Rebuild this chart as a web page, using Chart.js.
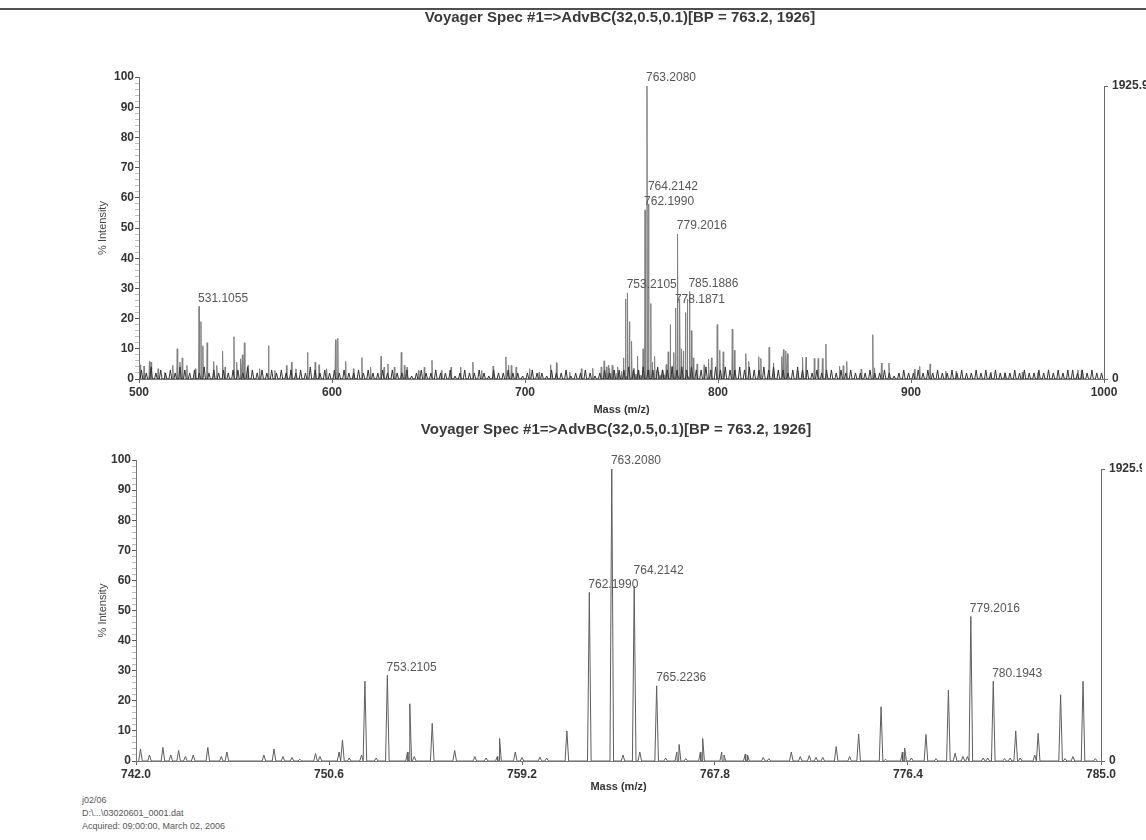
<!DOCTYPE html>
<html><head><meta charset="utf-8">
<script src="https://cdn.jsdelivr.net/npm/chart.js@4.4.1/dist/chart.umd.min.js"></script>
<style>
html,body{margin:0;padding:0;background:#fff;overflow:hidden;}
#page{position:relative;width:1146px;height:840px;overflow:hidden;background:#fff;}
canvas{position:absolute;left:0;}
#scanEdge{position:absolute;left:0;top:8px;width:1146px;height:2px;background:#505050;}
.foot{position:absolute;left:82px;font:9px "Liberation Sans",Arial,sans-serif;line-height:10px;color:#555;white-space:nowrap;}
</style></head><body>
<div id="page">
<div id="scanEdge"></div>
<canvas id="fullChart" width="1190" height="417" style="top:0px"></canvas>
<canvas id="zoomChart" width="1190" height="376" style="top:418px"></canvas>
<div class="foot" style="top:795px">j02/06</div>
<div class="foot" style="top:808px">D:\...\03020601_0001.dat</div>
<div class="foot" style="top:821px">Acquired: 09:00:00, March 02, 2006</div>
</div>
<script>
// ---------------- DATA ----------------
const titleText = 'Voyager Spec #1=>AdvBC(32,0.5,0.1)[BP = 763.2, 1926]';
const xAxisTitle = 'Mass (m/z)';
const yAxisTitle = '% Intensity';
const basePeakCounts = 1925.9;
const basePeakPercent = 97;

const fullTicks = [500, 600, 700, 800, 900, 1000];
const zoomTicks = [742.0, 750.6, 759.2, 767.8, 776.4, 785.0];
const intensityTicks = [0, 10, 20, 30, 40, 50, 60, 70, 80, 90, 100];

// peaks of the 742-785 window (bottom panel, also part of the top panel)
const zoomMz = [742.2,742.6,743.2,743.55,743.9,744.2,744.55,745.2,745.8,746.05,747.7,748.15,748.55,748.95,749.3,750.0,750.2,751.05,751.2,751.5,752.05,752.2,752.7,753.2,754.1,754.2,754.4,755.2,756.2,757.1,757.6,758.1,758.2,758.9,759.2,760.0,760.3,761.2,762.2,763.2,763.7,764.2,764.45,765.2,765.6,766.1,766.2,766.5,767.15,767.25,768.1,768.2,769.15,769.25,769.95,770.2,771.2,771.6,772.0,772.3,772.6,773.2,773.8,774.2,775.2,775.4,776.15,776.25,776.55,777.2,777.65,778.2,778.5,778.85,779.05,779.2,779.75,779.95,780.2,780.7,780.95,781.2,781.4,782.05,782.2,783.2,783.4,783.75,784.2,784.75];
const zoomInt = [4,2,4.5,2,3.5,1.5,2,4.5,1.5,3,2,4,1.5,1.2,0.6,2.5,1.5,3,7,1,2,26.5,1,28.5,3,19,1.5,12.5,3.5,1.5,1,1.5,7.5,3,1.2,1.3,1,10,56,97,2,58,3,25,1,3,5.5,0.8,3,7.5,3,2,2.3,2,1.2,0.8,3,1.5,1.8,1.2,1.2,4.8,1.5,9,18,0.6,3,4.3,1,8.8,0.8,23.5,2.6,1.5,1.5,48,1,1,26.5,0.8,1,10,1,2,9.2,22,0.8,1.5,26.5,0.8];

// other peaks of the full 500-1000 spectrum (top panel)
const fullMz = [500.6,502.6,505.4,506.3,509.9,513.3,517.5,519.8,521.2,522.4,524.8,529.2,531.1,532.1,533.1,535.3,538.7,540.3,543.3,544.6,549.2,550.6,552.6,553.6,554.6,556.5,562.5,567.1,570.4,576.4,579.0,581.3,587.3,591.3,593.3,597.2,601.8,603.0,607.1,611.1,615.5,620.0,625.4,627.0,629.0,632.3,635.9,637.5,638.9,644.8,647.8,651.8,656.7,661.7,666.7,673.0,677.6,683.5,690.1,691.5,692.9,695.4,702.4,707.3,713.3,716.3,723.2,729.2,735.1,739.5,741.0,785.2,786.2,787.2,789.2,792.8,795.1,796.6,799.6,800.9,802.7,807.4,808.5,814.4,815.9,821.1,822.2,826.5,828.8,833.0,833.9,835.1,836.0,841.4,843.8,845.6,849.9,851.9,854.1,855.9,863.0,864.9,866.7,874.2,880.2,881.1,884.7,888.6,901.8,904.5,909.9,918.0,923.4,941.4,948.6,957.7,965.8,986.5,988.3];
const fullInt = [4.7,4.3,5.8,5.6,3.4,2.2,4.5,10,5.6,7,4.5,3.4,24,19,11,12,5.8,4.5,9.2,3.9,14,5.6,6.7,8,12,4.5,3.4,11,2.8,4.5,5.6,3.4,8.8,5.6,4.7,3.4,13,13.5,5.8,3.4,7.1,3.9,7.5,3.9,5,3.9,8.8,4.5,3.9,2.8,3.9,6.2,2.8,3.9,3.9,5.6,2.8,4.3,7.3,4.5,4.5,3.9,3.4,2.2,4.7,5.4,2.2,3.4,3.6,4,6,29,16,7,5,4.7,6.5,7,18,9.5,9,16.5,9.5,8.4,5.8,7.4,6.8,10.5,5.3,7.4,9.7,9.3,8.4,2.6,7.2,7.2,6.8,6.8,6.8,11.6,4.2,4.4,5.8,3.2,14.7,3.7,5.3,5.3,3.2,4.2,5,2.6,2.6,2.3,2.1,2.3,2.1,3,3];

// estimated low-level noise of the full spectrum, one reading every 2.5 m/z from 501.25
const noiseStart = 501.25;
const noiseStep = 2.5;
const noiseLevels = [
3,2,4,2,3,2,3,2,4,3, 2,3,2,4,2,3,2,3,2,3,
3,2,4,3,2,3,2,3,2,3, 2,3,2,3,2,4,3,2,3,2,
3,2,3,2,2,3,2,3,2,2, 3,2,3,2,2,3,1,2,3,2,
2,3,2,2,3,1,2,3,2,2, 3,2,1,3,2,2,3,2,2,1,
2,3,2,2,1,3,2,2,3,1, 2,2,3,2,1,2,3,2,3,3,
3,4,3,3,4,3,3,4,3,3, 4,3,4,3,4,3,3,4,3,4,
3,4,3,3,4,3,4,3,3,4, 3,4,3,3,2,3,4,3,3,2,
3,2,3,3,2,3,2,3,2,2, 2,3,2,2,3,2,1,2,3,2,
2,3,2,3,2,3,2,2,3,2, 3,2,2,3,2,3,2,3,2,2,
2,3,2,3,2,2,3,2,3,2, 3,2,3,3,2,3,2,3,2,2];

const fullLabels = ['531.1055','753.2105','762.1990','763.2080','764.2142','778.1871','779.2016','785.1886'];
const zoomLabels = ['753.2105','762.1990','763.2080','764.2142','765.2236','779.2016','780.1943'];

// ---------------- STYLE / BUILD ----------------
const FONT = '"Liberation Sans", Arial, sans-serif';
const labelNudge = { full: { '764.2142': 9 }, zoom: { '764.2142': 8 } };

function sticks(mz, inten, halfWidth) {
  const pts = [];
  mz.forEach((m, i) => {
    pts.push({x: m - halfWidth, y: 0}, {x: m, y: inten[i]}, {x: m + halfWidth, y: 0});
  });
  pts.sort((a, b) => a.x - b.x);
  return pts;
}
function noisePoints() {
  const mz = noiseLevels.map((v, i) => noiseStart + i * noiseStep);
  return sticks(mz, noiseLevels, 0.7);
}
function lookup(mzs, ints, target) {
  let best = 0, bd = 1e9;
  mzs.forEach((m, i) => { const d = Math.abs(m - target); if (d < bd) { bd = d; best = ints[i]; } });
  return best;
}

const decor = {
  id: 'decor',
  afterDraw(chart, args, o) {
    const {ctx, chartArea, scales} = chart;
    const y2 = scales.y2;
    ctx.save();
    ctx.strokeStyle = '#6a6a6a';
    ctx.lineWidth = 1;
    const x = Math.round(chartArea.right) + 0.5;
    ctx.beginPath();
    ctx.moveTo(x, y2.getPixelForValue(0));
    ctx.lineTo(x, y2.getPixelForValue(basePeakCounts));
    ctx.stroke();
    ctx.font = '12px ' + FONT;
    ctx.fillStyle = '#555';
    ctx.textAlign = 'left';
    ctx.textBaseline = 'middle';
    o.labels.forEach(l => {
      const mz = parseFloat(l);
      const h = lookup(o.mz, o.int, mz);
      const px = scales.x.getPixelForValue(mz);
      const py = scales.y.getPixelForValue(h);
      ctx.fillText(l, px - 1, py - 8 - ((labelNudge[o.key] || {})[l] || 0));
    });
    ctx.restore();
  }
};

function build(id, cfg) {
  return new Chart(document.getElementById(id), {
    type: 'line',
    data: { datasets: cfg.datasets },
    plugins: [decor],
    options: {
      responsive: false, animation: false, devicePixelRatio: 1,
      parsing: false, normalized: true,
      events: [],
      layout: { padding: { left: 90, right: cfg.padRight, top: cfg.padTop, bottom: 0 } },
      elements: { point: { radius: 0 }, line: { borderWidth: 1, tension: 0, borderJoinStyle: 'bevel' } },
      plugins: {
        legend: { display: false },
        tooltip: { enabled: false },
        title: { display: true, text: titleText, color: '#3a3a3a',
                 font: { family: FONT, size: 15, weight: 'bold' }, padding: { top: 0, bottom: cfg.titleGap } },
        decor: { labels: cfg.labels, mz: cfg.lmz, int: cfg.lint, key: cfg.key }
      },
      scales: {
        x: {
          type: 'linear', min: cfg.ticks[0], max: cfg.ticks[cfg.ticks.length - 1],
          afterBuildTicks: s => { s.ticks = cfg.ticks.map(v => ({value: v})); },
          afterFit: s => { s.height = cfg.xHeight; },
          ticks: { callback: v => cfg.fmt(v), color: '#333', font: { family: FONT, size: 12, weight: 'bold' },
                   padding: 2, maxRotation: 0, autoSkip: false },
          grid: { display: true, drawOnChartArea: false, drawTicks: true, tickLength: 4, color: '#666' },
          border: { display: true, color: '#777' },
          title: { display: true, text: xAxisTitle, color: '#333', font: { family: FONT, size: 11, weight: 'bold' },
                   padding: { top: 0, bottom: 0 } }
        },
        y: {
          type: 'linear', position: 'left', min: 0, max: 100,
          afterBuildTicks: s => { const t = []; for (let v = 0; v <= 100; v += 2) t.push({value: v}); s.ticks = t; },
          afterFit: s => { s.width = cfg.yWidth; },
          ticks: { callback: v => intensityTicks.includes(v) ? String(v) : '', color: '#333',
                   font: { family: FONT, size: 12, weight: 'bold' }, padding: 1, autoSkip: false },
          grid: { display: true, drawOnChartArea: false, drawTicks: true, tickLength: 4,
                  tickColor: c => (c.tick && c.tick.value % 10 === 0) ? '#555' : '#bdbdbd' },
          border: { display: true, color: '#777' },
          title: { display: true, text: yAxisTitle, color: '#444', font: { family: FONT, size: 11 },
                   padding: { top: 6, bottom: 0 } }
        },
        y2: {
          type: 'linear', position: 'right', min: 0, max: basePeakCounts * 100 / basePeakPercent,
          afterBuildTicks: s => { s.ticks = [{value: 0}, {value: basePeakCounts}]; },
          afterFit: s => { s.width = cfg.y2Width; },
          ticks: { callback: v => v === 0 ? '0' : v.toFixed(1), color: '#333',
                   font: { family: FONT, size: 12, weight: 'bold' }, padding: 4, autoSkip: false },
          grid: { display: true, drawOnChartArea: false, drawTicks: true, tickLength: 4, color: '#666' },
          border: { display: false }
        }
      }
    }
  });
}

const allMz = zoomMz.concat(fullMz);
const allInt = zoomInt.concat(fullInt);

build('fullChart', {
  datasets: [
    { data: noisePoints(), borderColor: '#333333', borderWidth: 1 },
    { data: sticks(allMz, allInt, 0.25), borderColor: '#808080', borderWidth: 1 }
  ],
  ticks: fullTicks, fmt: v => String(v),
  padTop: 9, titleGap: 50, padRight: 40, yWidth: 49, y2Width: 46, xHeight: 38,
  labels: fullLabels, lmz: allMz, lint: allInt, key: 'full'
});

build('zoomChart', {
  datasets: [
    { data: sticks(zoomMz, zoomInt, 0.08), borderColor: '#5e5e5e', borderWidth: 1 }
  ],
  ticks: zoomTicks, fmt: v => v.toFixed(1),
  padTop: 3, titleGap: 21, padRight: 48, yWidth: 46, y2Width: 41, xHeight: 33,
  labels: zoomLabels, lmz: zoomMz, lint: zoomInt, key: 'zoom'
});
</script>
</body></html>
